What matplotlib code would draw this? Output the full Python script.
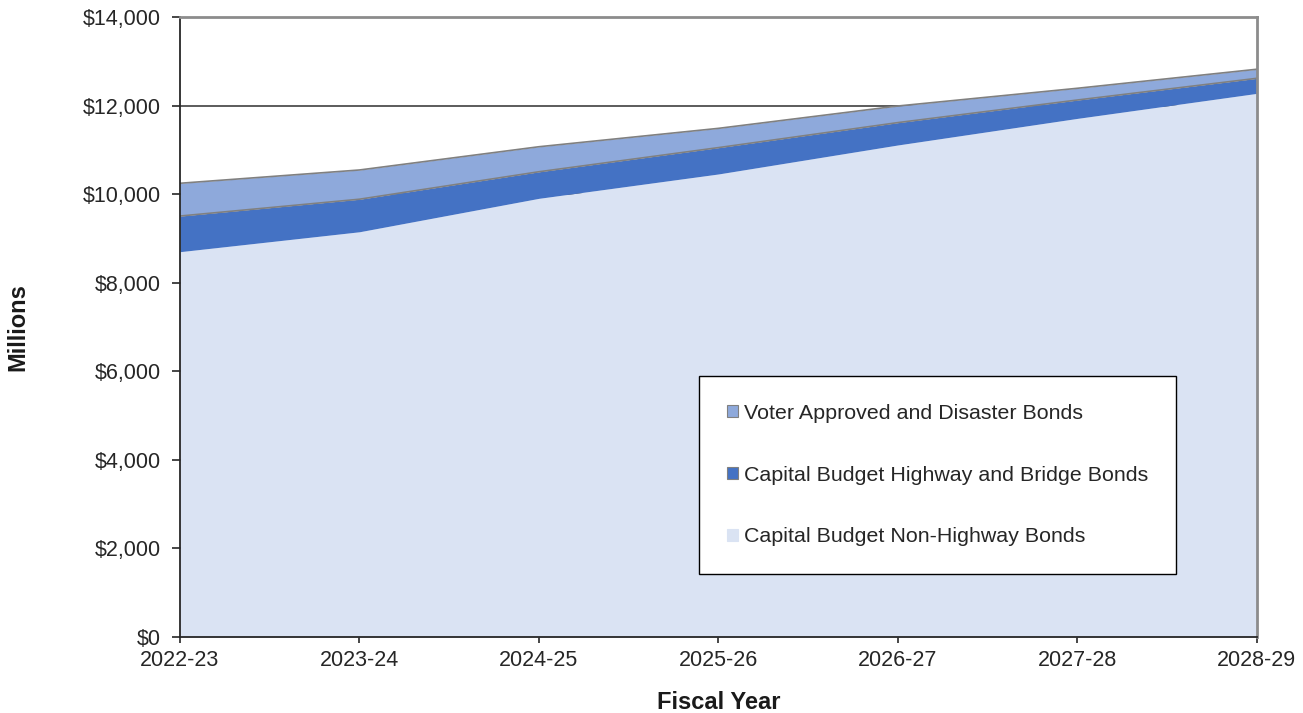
import matplotlib.pyplot as plt
import numpy as np
from matplotlib.patches import Patch
from matplotlib.ticker import FuncFormatter

plt.rcParams["font.family"] = ["Liberation Sans", "DejaVu Sans"]

YEARS = ["2022-23", "2023-24", "2024-25", "2025-26", "2026-27", "2027-28", "2028-29"]
NON_HIGHWAY = [8700, 9150, 9905, 10455, 11110, 11710, 12275]
HIGHWAY = [805, 735, 600, 595, 505, 415, 340]
VOTER = [740, 660, 565, 435, 375, 265, 205]

LABELS = [
    "Voter Approved and Disaster Bonds",
    "Capital Budget Highway and Bridge Bonds",
    "Capital Budget Non-Highway Bonds",
]
COLORS = ["#8EA9DB", "#4472C4", "#DAE3F3"]


def main() -> None:
    fig = plt.figure(figsize=(13.03, 7.13), dpi=100)
    ax = fig.add_axes([0.1381, 0.1066, 0.8265, 0.8696])

    x = np.arange(len(YEARS))
    base = np.array(NON_HIGHWAY, dtype=float)
    mid = base + np.array(HIGHWAY)
    top = mid + np.array(VOTER)

    ax.fill_between(x, 0, base, color=COLORS[2], linewidth=0, zorder=2)
    ax.fill_between(x, base, mid, color=COLORS[1], linewidth=0, zorder=2)
    ax.fill_between(x, mid, top, color=COLORS[0], linewidth=0, zorder=2)
    ax.plot(x, mid, color="#808080", linewidth=1.2, zorder=3)
    ax.plot(x, top, color="#808080", linewidth=1.2, zorder=3)

    ax.set_xlim(0, len(YEARS) - 1)
    ax.set_ylim(0, 14000)
    ax.set_yticks(np.arange(0, 14001, 2000))
    ax.yaxis.set_major_formatter(FuncFormatter(lambda v, _: f"${v:,.0f}"))
    ax.set_xticks(x)
    ax.set_xticklabels(YEARS)
    ax.tick_params(axis="both", labelsize=15.5, colors="#262626", direction="out",
                   width=1.2)
    ax.tick_params(axis="y", length=6, pad=8)
    ax.tick_params(axis="x", length=4.5, pad=5)

    ax.grid(axis="y", color="#404040", linewidth=1.2, zorder=1)
    ax.set_axisbelow(True)
    for side in ("left", "bottom"):
        ax.spines[side].set_color("#262626")
        ax.spines[side].set_linewidth(1.3)
        ax.spines[side].set_zorder(4)
    for side in ("top", "right"):
        ax.spines[side].set_color("#8c8c8c")
        ax.spines[side].set_linewidth(2)
        ax.spines[side].set_zorder(4)

    ax.set_ylabel("Millions", fontsize=17, fontweight="bold", color="#1a1a1a")
    ax.yaxis.set_label_coords(-0.1395, 0.5)
    ax.set_xlabel("Fiscal Year", fontsize=17, fontweight="bold", labelpad=14,
                  color="#1a1a1a")

    handles = [Patch(facecolor=c, edgecolor="#808080" if i < 2 else c, linewidth=0.8)
               for i, c in enumerate(COLORS)]
    leg = ax.legend(handles, LABELS, loc="upper left",
                    bbox_to_anchor=(0.482, 0.421), fontsize=15.4,
                    frameon=True, fancybox=False, edgecolor="#000000",
                    framealpha=1.0, facecolor="white", labelcolor="#262626",
                    handlelength=0.5, handleheight=0.5, handletextpad=0.3,
                    labelspacing=2.0, borderpad=1.3, borderaxespad=0)
    leg.get_frame().set_linewidth(1.0)
    leg.set_zorder(5)

    fig.savefig("out.png", dpi=100)


if __name__ == "__main__":
    main()
